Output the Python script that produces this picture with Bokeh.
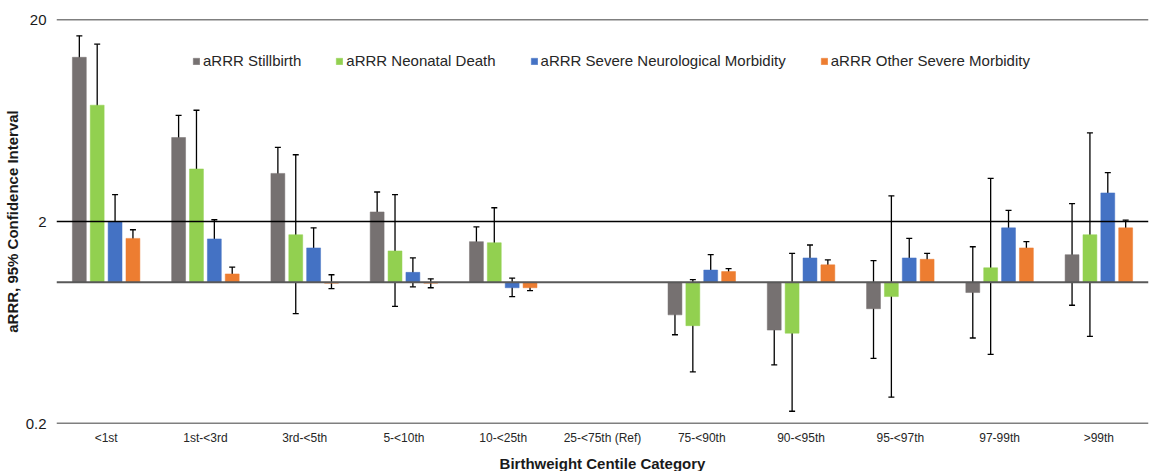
from bokeh.plotting import figure
from bokeh.models import (ColumnDataSource, FactorRange, Range1d, FixedTicker, Whisker,
                          TeeHead, Span, Legend, LegendItem)
from bokeh.transform import dodge
from bokeh.embed import file_html
from bokeh.resources import INLINE

nan = float("nan")
categories = ["<1st", "1st-<3rd", "3rd-<5th", "5-<10th", "10-<25th", "25-<75th (Ref)",
              "75-<90th", "90-<95th", "95-<97th", "97-99th", ">99th"]

series_names = ["aRRR Stillbirth", "aRRR Neonatal Death",
                "aRRR Severe Neurological Morbidity", "aRRR Other Severe Morbidity"]

stillbirth = [13.0, 5.21, 3.46, 2.23, 1.59, nan, 0.69, 0.58, 0.74, 0.89, 1.37]
stillbirth_lo = [10.1, 4.06, 2.60, 1.76, 1.33, nan, 0.55, 0.39, 0.42, 0.53, 0.77]
stillbirth_hi = [16.6, 6.71, 4.66, 2.80, 1.88, nan, 0.86, 0.87, 1.28, 1.50, 2.45]

neonatal = [7.53, 3.64, 1.72, 1.43, 1.57, nan, 0.61, 0.56, 0.85, 1.18, 1.72]
neonatal_lo = [3.80, 1.88, 0.70, 0.76, 1.08, nan, 0.36, 0.23, 0.27, 0.44, 0.54]
neonatal_hi = [15.1, 7.11, 4.28, 2.72, 2.34, nan, 1.03, 1.39, 2.68, 3.27, 5.49]

neuro = [2.00, 1.64, 1.48, 1.12, 0.94, nan, 1.15, 1.32, 1.32, 1.86, 2.77]
neuro_lo = [1.50, 1.32, 1.19, 0.95, 0.85, nan, 1.03, 1.14, 1.05, 1.53, 2.22]
neuro_hi = [2.72, 2.04, 1.86, 1.32, 1.05, nan, 1.37, 1.53, 1.65, 2.27, 3.49]

other = [1.65, 1.10, 0.99, 0.99, 0.94, nan, 1.13, 1.22, 1.30, 1.48, 1.86]
other_lo = [1.49, 1.02, 0.93, 0.94, 0.91, nan, 1.09, 1.17, 1.21, 1.38, 1.70]
other_hi = [1.82, 1.19, 1.09, 1.04, 0.975, nan, 1.17, 1.29, 1.39, 1.59, 2.03]

y_ticks = [0.2, 2, 20]
y_tick_labels = ["0.2", "2", "20"]

colors = ["#767171", "#92D050", "#4472C4", "#ED7D31"]
offsets = [-0.27, -0.09, 0.09, 0.27]
FONT = "Liberation Sans"

p = figure(x_range=FactorRange(*categories, range_padding=0), y_axis_type="log",
           y_range=Range1d(0.2, 20), width=1155, height=471,
           frame_width=1092, frame_height=404,
           min_border_left=10, min_border_top=19, min_border_right=8, min_border_bottom=10,
           output_backend="svg", toolbar_location=None)
p.outline_line_color = None
p.xgrid.visible = False
p.ygrid.visible = False
p.background_fill_color = "white"
p.border_fill_color = "white"

data = [(stillbirth, stillbirth_lo, stillbirth_hi), (neonatal, neonatal_lo, neonatal_hi),
        (neuro, neuro_lo, neuro_hi), (other, other_lo, other_hi)]

items = []
for (vals, lo, hi), col, off, name in zip(data, colors, offsets, series_names):
    rows = [i for i, v in enumerate(vals) if v == v]
    src = ColumnDataSource(dict(
        cat=[categories[i] for i in rows],
        val=[vals[i] for i in rows],
        lo=[lo[i] for i in rows],
        hi=[hi[i] for i in rows],
    ))
    r = p.vbar(x=dodge("cat", off, range=p.x_range), top="val", bottom=1, width=0.14,
               source=src, fill_color=col, line_color=col, line_width=0.5)
    items.append(LegendItem(label=name, renderers=[r]))
    w = Whisker(base=dodge("cat", off, range=p.x_range), upper="hi", lower="lo",
                source=src, dimension="height", line_color="black", line_width=1.3,
                upper_head=TeeHead(size=6, line_color="black", line_width=1.3),
                lower_head=TeeHead(size=6, line_color="black", line_width=1.3))
    p.add_layout(w)

for yv in y_ticks:
    p.add_layout(Span(location=yv, dimension="width", line_color="black", line_width=1.3))
p.add_layout(Span(location=1, dimension="width", line_color="#595959", line_width=2))

p.yaxis.ticker = FixedTicker(ticks=y_ticks)
p.yaxis.major_label_overrides = {t: l for t, l in zip(y_ticks, y_tick_labels)}
p.yaxis.axis_line_color = None
p.yaxis.major_tick_line_color = None
p.yaxis.minor_tick_line_color = None
p.yaxis.major_tick_out = 0
p.yaxis.minor_tick_out = 0
p.yaxis.major_label_standoff = 10
p.yaxis.major_label_text_font = FONT
p.yaxis.major_label_text_font_size = "15px"
p.yaxis.major_label_text_color = "#1a1a1a"
p.yaxis.axis_label = "aRRR, 95% Confidence Interval"
p.yaxis.axis_label_text_font = FONT
p.yaxis.axis_label_text_font_style = "bold"
p.yaxis.axis_label_text_font_size = "15px"
p.yaxis.axis_label_text_color = "#1a1a1a"
p.yaxis.axis_label_standoff = 2

p.xaxis.axis_line_color = None
p.xaxis.major_tick_line_color = None
p.xaxis.minor_tick_line_color = None
p.xaxis.major_tick_out = 0
p.xaxis.minor_tick_out = 0
p.xaxis.major_label_standoff = 7
p.xaxis.major_label_text_font = FONT
p.xaxis.major_label_text_font_size = "12px"
p.xaxis.major_label_text_color = "#262626"
p.xaxis.axis_label = "Birthweight Centile Category"
p.xaxis.axis_label_text_font = FONT
p.xaxis.axis_label_text_font_style = "bold"
p.xaxis.axis_label_text_font_size = "15px"
p.xaxis.axis_label_text_color = "#1a1a1a"
p.xaxis.axis_label_standoff = 7

legend = Legend(items=items, orientation="horizontal", location=(136, 354),
                label_text_font=FONT, label_text_font_size="15px", label_text_color="#262626",
                glyph_width=8, glyph_height=8, label_standoff=3, spacing=34,
                padding=0, margin=0, border_line_color=None, background_fill_alpha=0)
p.add_layout(legend)

open("out.html", "w").write(file_html(p, INLINE))
